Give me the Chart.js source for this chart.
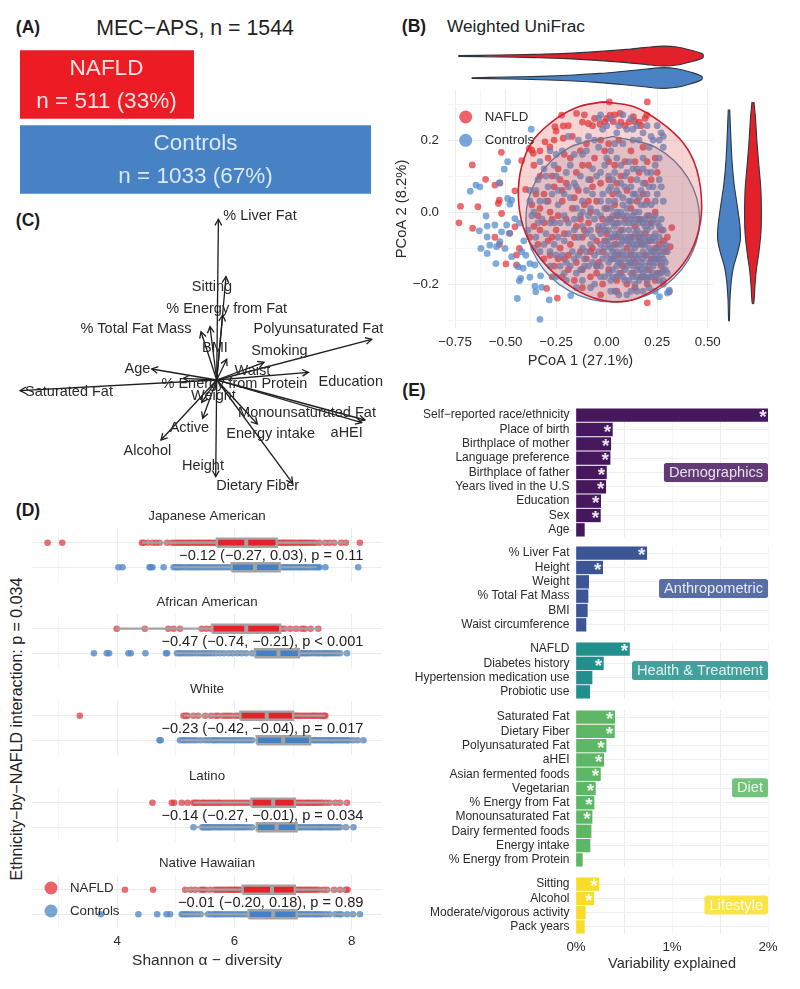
<!DOCTYPE html>
<html><head><meta charset="utf-8">
<script src="https://cdn.jsdelivr.net/npm/chart.js@4"></script>
<style>
html,body{margin:0;padding:0;background:#fff}
#wrap{position:relative;width:800px;height:989px;overflow:hidden;font-family:"Liberation Sans",Arial,sans-serif;color:#222}
canvas{position:absolute}
.t{position:absolute;white-space:nowrap;transform:translate(-50%,-50%)}
</style></head><body><div id="wrap"></div>
<script>
// ---------- Panel A
const cohortLabels=['NAFLD','Controls'];
const cohortCounts=[511,1033];
const cohortShares=['33%','67%'];
// ---------- Panel B: PCoA coordinates
const nafldPCoA=[[-.521,.166],[-.665,.131],[-.599,.091],[-.528,.081],[-.553,.075],[-.723,.016],[-.637,.015],[-.731,-.03],[-.663,-.045],[-.454,.059],[-.401,.063],[-.531,.033],[-.536,.024],[-.52,-.004],[-.553,-.07],[-.479,-.059],[-.454,-.041],[-.531,-.09],[-.432,-.101],[-.446,-.119],[-.498,-.144],[-.446,-.147],[-.297,-.212],[-.244,-.239],[.201,-.252],[.31,-.221],[.201,.306],[.013,.306],[.322,-.043],[.314,-.096],[-.421,.143],[-.371,.172],[-.363,.163],[-.383,.177],[-.256,.237],[-.215,.239],[-.223,.269],[-.149,.274],[-.091,.246],[-.033,.244],[.017,.269],[.033,.251],[.066,.274],[.14,.251],[.198,.269],[.132,.265],[-.25,.225],[-.281,.181],[-.305,.195],[-.215,.205],
[-.12,.25],[-.07,.24],[-.01,.25],[.04,.27],[.09,.24],[.16,.25],[.19,.26],[-.17,.21],[-.1,.19],[-.03,.2],[.06,.2],[.12,.17],[.2,.14],[.24,.15],[-.29,.15],[-.24,.12],[-.18,.15],[-.12,.13],[-.06,.15],[.01,.14],[.07,.1],[.16,.11],[.22,.09],[-.33,.1],[-.31,.05],[-.26,.07],[-.2,.08],[-.14,.06],[-.08,.09],[-.03,.08],[.03,.05],[.1,.06],[.18,.05],[.2,.03],[-.37,.02],[-.33,.01],[-.28,0],[-.22,.03],[-.17,.01],[-.11,.02],[-.05,.03],[0,.01],[.05,-.01],[.12,.01],[.21,-.01],[-.36,-.04],[-.31,-.03],[-.25,-.05],[-.2,-.02],[-.15,-.04],[-.09,-.03],[-.04,-.05],[.02,-.02],[.07,-.05],[.14,-.04],[.19,-.06],[.27,-.05],[.3,-.07],[-.34,-.09],[-.29,-.08],[-.23,-.1],[-.18,-.09],[-.12,-.07],[-.07,-.1],[-.01,-.08],[.04,-.09],[.1,-.1],[.17,-.09],[.24,-.1],[.29,-.11],[-.31,-.13],[-.26,-.15],[-.21,-.13],[-.15,-.14],[-.1,-.13],[-.04,-.14],[.03,-.13],[.08,-.15],[.14,-.14],[.22,-.13],[.27,-.15],[-.22,-.18],[-.16,-.19],[-.08,-.18],[-.02,-.2],[.05,-.19],[.1,-.2],[.18,-.18],[.24,-.19],[.28,-.2],[-.05,-.17],[-.27,-.02],[.01,.19],[.09,.14],[.15,.03],[-.13,.17],
[-.11,.27],[-.06,.26],[.0,.26],[.07,.25],[.11,.25],[.17,.24],[-.19,.24],[-.26,.2],[-.33,.17],[-.36,.13],[-.21,.16],[-.15,.11],[-.09,.13],[-.01,.17],[.04,.13],[.14,.14],[.18,.18],[.25,.11],[-.27,.1],[-.22,.06],[-.16,.04],[-.07,.07],[.01,.09],[.05,.08],[.12,.09],[.19,.08],[-.35,.05],[-.29,.03],[-.24,-.01],[-.13,-.02],[-.08,.0],[-.02,-.02],[.04,.02],[.09,-.02],[.16,-.02],[.24,.0],[-.38,-.07],[-.33,-.05],[-.27,-.07],[-.21,-.06],[-.16,-.07],[-.11,-.05],[-.05,-.08],[.0,-.06],[.05,-.07],[.12,-.07],[.21,-.08],[.26,-.09],[-.28,-.12],[-.24,-.13],[-.19,-.12],[-.13,-.11],[-.08,-.11],[-.02,-.11],[.06,-.12],[.12,-.12],[.19,-.12],[.25,-.13],[-.27,-.18],[-.19,-.16],[-.12,-.16],[-.05,-.15],[.01,-.16],[.07,-.17],[.13,-.17],[.21,-.16],[.26,-.17],[-.12,-.21],[-.03,-.23],[.05,-.22],[.14,-.21],[.2,-.2],[-.09,.03],[-.23,.09],[-.34,-.01],[.16,-.07],[.22,-.03],[.28,-.08]];
const controlsPCoA=[[-.373,.23],[-.49,.14],[-.507,.119],[-.647,.075],[-.627,.07],[-.675,.058],[-.531,.081],[-.49,.038],[-.47,.033],[-.479,.022],[-.597,-.011],[-.591,-.039],[-.63,-.052],[-.591,-.069],[-.553,-.036],[-.495,-.036],[-.454,-.018],[-.432,-.031],[-.52,-.055],[-.482,-.059],[-.528,-.082],[-.578,-.092],[-.622,-.101],[-.591,-.115],[-.545,-.096],[-.503,-.101],[-.47,-.124],[-.548,-.143],[-.437,-.152],[-.413,-.156],[-.38,-.143],[-.355,-.147],[-.327,-.177],[-.38,-.181],[-.426,-.184],[-.432,-.191],[-.355,-.206],[-.322,-.209],[-.351,-.221],[-.442,-.24],[-.284,-.244],[-.178,-.232],[-.33,-.298],[.261,-.235],[.31,-.217],[.3,-.225],[-.41,-.08],[-.39,-.05],[-.42,-.11],[-.4,-.12],
[-.04,.26],[-.03,.27],[.02,.26],[.08,.27],[.12,.26],[.15,.24],[.2,.24],[.25,.24],[.27,.22],[.26,.2],[.28,.21],[.18,.22],[.1,.23],[.05,.22],[-.02,.23],[-.09,.21],[-.14,.2],[-.19,.21],[-.28,.17],[-.22,.17],[-.33,.14],[-.26,.13],[-.16,.16],[-.1,.17],[-.04,.18],[.02,.17],[.08,.19],[.13,.2],[.21,.18],[.24,.13],[.18,.15],[.11,.14],[.05,.15],[-.01,.13],[-.07,.12],[-.13,.1],[-.2,.11],[-.3,.1],[-.35,.06],[-.27,.05],[-.21,.05],[-.16,.08],[-.1,.06],[-.05,.1],[.01,.1],[.04,.11],[.09,.1],[.15,.09],[.2,.11],[.23,.07],[.18,.08],[.12,.07],[.07,.08],[.02,.07],[-.02,.05],[-.07,.05],[-.12,.03],[-.18,.04],[-.24,.02],[-.3,.03],[-.36,.0],[-.32,-.02],[-.26,-.03],[-.21,-.01],[-.16,-.02],[-.13,-.01],[-.08,.01],[-.03,.03],[.01,.03],[.04,.03],[.08,.04],[.11,.03],[.14,.05],[.17,.02],[.2,.05],[.22,.02],[.24,.03],[.23,-.02],[.2,-.01],[.18,-.03],[.16,.0],[.13,-.01],[.1,-.01],[.07,.0],[.03,-.01],[0,-.03],[-.03,-.01],[-.06,-.02],[-.1,-.06],[-.14,-.07],[-.19,-.06],[-.24,-.07],[-.3,-.06],[-.35,-.07],[-.33,-.11],[-.28,-.11],[-.22,-.12],[-.17,-.11],[-.12,-.1],[-.07,-.07],[-.03,-.06],[.01,-.05],[.04,-.04],[.06,-.03],[.09,-.03],[.11,-.05],[.13,-.03],[.15,-.05],[.17,-.06],[.2,-.05],[.22,-.04],[.25,-.03],[.27,-.02],[.24,-.06],[.26,-.07],[.22,-.08],[.19,-.09],[.16,-.08],[.14,-.07],[.12,-.08],[.09,-.07],[.06,-.06],[.03,-.07],[0,-.08],[-.03,-.09],[-.06,-.12],[-.1,-.11],[-.14,-.12],[.02,-.1],[.05,-.11],[.07,-.09],[.1,-.12],[.12,-.11],[.14,-.1],[.16,-.12],[.18,-.11],[.2,-.12],[.22,-.11],[.25,-.1],[.27,-.12],[.29,-.09],[.28,-.13],[.25,-.14],[.23,-.15],[.21,-.14],[.19,-.15],[.17,-.14],[.15,-.16],[.13,-.15],[.11,-.14],[.09,-.16],[.07,-.14],[.05,-.15],[.03,-.16],[.01,-.14],[-.02,-.13],[-.05,-.15],[-.09,-.15],[-.13,-.16],[-.18,-.15],[-.23,-.15],[-.28,-.15],[-.2,-.19],[-.12,-.19],[-.06,-.2],[.02,-.19],[.04,-.22],[.06,-.23],[.1,-.23],[.13,-.18],[.16,-.19],[.19,-.18],[.22,-.18],[.25,-.17],[.27,-.17],[.29,-.16],[.15,-.22],[.18,-.22],[.1,.01],[.05,.06],[.15,.12],[-.02,-.04],[.06,-.01],[.12,-.02],[.08,-.05],[.14,-.12],[.11,-.09],[.04,-.13],[.18,-.07],[.21,-.07],[.23,-.11],[.08,-.11],[.16,-.03],[.19,-.02],
[.0,.24],[.06,.24],[.13,.23],[.22,.21],[.23,.2],[.16,.2],[.04,.19],[-.06,.2],[-.12,.16],[-.18,.13],[-.25,.1],[-.31,.12],[.0,.15],[.07,.13],[.13,.12],[.18,.12],[.22,.11],[.26,.09],[.1,.11],[.03,.09],[-.03,.11],[-.09,.09],[-.15,.07],[-.19,.07],[-.24,.06],[-.29,.07],[-.33,.03],[-.38,.03],[.01,.06],[.06,.05],[.09,.07],[.13,.05],[.17,.06],[.21,.07],[.25,.05],[.16,.04],[.19,.02],[.12,.03],[.08,.02],[.05,.0],[.02,.01],[-.01,.01],[-.05,.0],[-.09,-.01],[-.12,.0],[-.15,.01],[-.19,-.03],[-.23,-.03],[-.28,-.03],[-.34,-.03],[.28,-.05],[.26,-.04],[.24,-.01],[.21,-.03],[.19,-.04],[.17,-.02],[.15,-.02],[.14,.0],[.11,-.03],[.08,-.01],[.05,-.03],[.03,-.03],[.01,-.02],[-.01,-.05],[-.04,-.04],[-.08,-.05],[-.12,-.04],[-.16,-.05],[-.21,-.08],[-.26,-.09],[-.31,-.09],[.3,-.11],[.28,-.1],[.26,-.11],[.24,-.08],[.23,-.07],[.21,-.1],[.2,-.08],[.18,-.09],[.17,-.08],[.15,-.09],[.14,-.06],[.13,-.09],[.11,-.07],[.1,-.08],[.08,-.08],[.07,-.07],[.05,-.09],[.04,-.06],[.02,-.07],[.01,-.09],[-.01,-.1],[-.04,-.11],[-.08,-.09],[-.11,-.13],[-.16,-.13],[-.2,-.14],[-.25,-.12],[.29,-.14],[.27,-.14],[.26,-.13],[.24,-.12],[.23,-.13],[.22,-.14],[.2,-.16],[.18,-.13],[.17,-.16],[.16,-.15],[.15,-.13],[.13,-.13],[.12,-.14],[.1,-.15],[.09,-.13],[.07,-.12],[.06,-.14],[.04,-.12],[.03,-.11],[.02,-.13],[0,-.12],[-.03,-.15],[-.07,-.14],[-.11,-.15],[-.15,-.17],[-.21,-.17],[-.25,-.18],[.3,-.17],[.28,-.16],[.26,-.19],[.24,-.18],[.23,-.17],[.21,-.18],[.2,-.19],[.18,-.17],[.17,-.18],[.15,-.18],[.14,-.2],[.12,-.17],[.11,-.19],[.09,-.19],[.08,-.18],[.06,-.17],[.05,-.18],[.03,-.18],[.01,-.17],[-.01,-.18],[-.03,-.18],[-.08,-.21],[-.15,-.21],[.02,-.22],[.12,-.22],[.21,-.21],[.24,-.22],[.28,-.19],[-.37,-.01],[-.36,-.1],[-.38,.06],[-.34,.09],[-.25,.16],[.28,.18],[.26,.15],[.27,.07],[.28,.03]];
// outlines of the two group ellipses
const nafldEllipse=[[-.017,.306],[.132,.293],[.264,.251],[.38,.191],[.446,.117],[.47,.015],[.446,-.069],[.38,-.143],[.281,-.198],[.149,-.24],[.033,-.249],[-.099,-.231],[-.231,-.184],[-.347,-.115],[-.413,-.041],[-.437,.043],[-.421,.126],[-.363,.2],[-.248,.26],[-.132,.294],[-.017,.306]];
const controlsEllipse=[[.03,.21],[.245,.179],[.402,.095],[.46,-.02],[.402,-.135],[.245,-.219],[.03,-.25],[-.185,-.219],[-.342,-.135],[-.4,-.02],[-.342,.095],[-.185,.179],[.03,.21]];
// marginal violins: axis value and half width
const topNafldAt=[-.734,-.53,-.363,-.198,-.033,.099,.198,.281,.347,.413,.475];
const topNafldW=[.015,.045,.076,.12,.21,.3,.39,.45,.41,.27,.09];
const topControlsAt=[-.668,-.495,-.33,-.165,-.033,.099,.198,.281,.347,.413,.47];
const topControlsW=[.015,.045,.076,.136,.21,.32,.41,.47,.42,.27,.08];
const sideControlsAt=[.285,.219,.144,.08,.015,-.041,-.078,-.115,-.152,-.189,-.244,-.302];
const sideControlsW=[.03,.07,.125,.21,.35,.46,.47,.35,.19,.1,.04,.015];
const sideNafldAt=[.306,.265,.191,.126,.061,-.013,-.059,-.115,-.161,-.207,-.254];
const sideNafldW=[.04,.1,.17,.25,.33,.35,.33,.24,.14,.08,.03];
const pcoaXTicks=[-.75,-.625,-.5,-.375,-.25,-.125,0,.125,.25,.375,.5];
const pcoaXLabels=['\u22120.75','','\u22120.50','','\u22120.25','','0.00','','0.25','','0.50'];
const pcoaYTicks=[-.3,-.2,-.1,0,.1,.2,.3];
const pcoaYLabels=['','\u22120.2','','0.0','','0.2',''];
// ---------- Panel C
const biplotNames=['% Liver Fat','Sitting','% Energy from Fat','% Total Fat Mass','BMI','Waist','Smoking','Polyunsaturated Fat','Education','Age','% Energy from Protein','Saturated Fat','Weight','Active','Alcohol','Height','Dietary Fiber','Energy intake','Monounsaturated Fat','aHEI'];
const biplotX=[.017,.093,.06,-.157,-.067,.1,.473,1.55,.917,-.65,-.333,-1.967,-.15,-.14,-.557,-.01,.76,.407,1.45,1.483];
const biplotY=[1.607,1.033,.65,.483,.533,.207,.177,.407,.077,.11,.017,-.107,-.223,-.383,-.6,-.967,-1.033,-.44,-.427,-.4];
const biplotLabelX=[.433,-.047,.1,-.807,-.017,.357,.627,1.017,1.34,-.793,.177,-1.477,-.033,-.273,-.693,-.137,.41,.54,.903,1.3];
const biplotLabelY=[1.64,.927,.71,.507,.317,.093,.293,.507,-.017,.107,-.043,-.12,-.16,-.483,-.707,-.857,-1.06,-.543,-.333,-.533];
// ---------- Panel D: Shannon diversity
const ethnicities=['Japanese American','African American','White','Latino','Native Hawaiian'];
const effectLabels=['\u22120.12 (\u22120.27, 0.03), p = 0.11','\u22120.47 (\u22120.74, \u22120.21), p < 0.001','\u22120.23 (\u22120.42, \u22120.04), p = 0.017','\u22120.14 (\u22120.27, \u22120.01), p = 0.034','\u22120.01 (\u22120.20, 0.18), p = 0.89'];
const shannonNafld=[
[2.81,3.06,4.42,4.45,4.52,4.6,4.66,4.72,4.85,4.93,4.98,5.02,5.06,5.1,5.14,5.18,5.22,5.25,5.29,5.33,5.37,5.4,5.44,5.47,5.51,5.55,5.58,5.62,5.66,5.7,5.9,6.1,6.35,6.6,6.72,6.76,6.8,6.83,6.86,6.9,6.93,6.97,7,7.04,7.08,7.12,7.15,7.19,7.22,7.26,7.3,7.34,7.38,7.45,7.55,7.62,7.7,7.82,7.9,8.14],
[3.99,4.47,4.87,4.96,5.07,5.44,5.52,5.6,5.66,5.7,5.78,5.85,5.92,6,6.1,6.25,6.4,6.5,6.7,6.8,6.85,6.95,7.05,7.15,7.2,7.3,7.43],
[3.36,5.13,5.17,5.2,5.3,5.38,5.5,5.6,5.68,5.72,5.8,5.85,5.9,5.95,6.02,6.07,6.12,6.3,6.5,6.7,6.85,6.98,7.02,7.05,7.08,7.12,7.16,7.2,7.24,7.28,7.32,7.35,7.38,7.42,7.46,7.5,7.53,7.55],
[4.6,4.93,4.97,5.1,5.2,5.3,5.33,5.36,5.4,5.45,5.48,5.52,5.56,5.6,5.64,5.68,5.72,5.75,5.8,5.85,5.9,5.95,6,6.05,6.1,6.15,6.2,6.25,6.4,6.6,6.9,7.05,7.09,7.12,7.16,7.2,7.24,7.27,7.31,7.35,7.38,7.42,7.46,7.5,7.56,7.62,7.72,7.8,7.92],
[4.13,4.61,5.16,5.25,5.33,5.42,5.46,5.5,5.58,5.66,5.7,5.74,5.78,5.82,5.86,5.9,5.93,5.96,6,6.02,6.06,6.1,6.3,6.6,6.9,7.05,7.09,7.12,7.16,7.2,7.24,7.28,7.32,7.36,7.4,7.45,7.52,7.58,7.7,7.8,7.9,7.93]];
const shannonControls=[
[4.02,4.09,4.55,4.57,4.6,4.79,4.96,5,5.03,5.07,5.1,5.15,5.2,5.24,5.28,5.32,5.36,5.4,5.45,5.5,5.55,5.6,5.65,5.7,5.75,5.8,5.85,5.9,5.95,6.2,6.5,6.8,6.85,6.88,6.92,6.96,7,7.04,7.08,7.12,7.15,7.19,7.22,7.26,7.3,7.34,7.38,7.42,7.45,7.55,8.11],
[3.6,3.82,3.86,4.19,4.23,4.48,4.83,4.85,5.02,5.06,5.1,5.15,5.2,5.25,5.3,5.36,5.42,5.47,5.52,5.57,5.62,5.68,5.75,5.82,5.9,5.97,6.05,6.12,6.2,6.3,6.4,6.7,7,7.12,7.15,7.19,7.22,7.26,7.3,7.35,7.4,7.44,7.48,7.52,7.55,7.58,7.62,7.66,7.7,7.75,7.8,7.92],
[4.72,4.74,5.07,5.12,5.15,5.2,5.25,5.3,5.35,5.42,5.5,5.56,5.62,5.66,5.7,5.75,5.8,5.85,5.9,5.95,6,6.05,6.1,6.15,6.2,6.25,6.3,6.5,6.9,7.3,7.35,7.38,7.42,7.46,7.5,7.54,7.58,7.62,7.65,7.68,7.72,7.76,7.8,7.84,7.88,7.92,7.95,8.02,8.1,8.2],
[5.3,5.45,5.47,5.5,5.53,5.55,5.58,5.6,5.64,5.68,5.72,5.75,5.78,5.82,5.86,5.9,5.94,5.98,6.02,6.05,6.08,6.12,6.16,6.2,6.25,6.3,6.5,6.8,7.05,7.09,7.12,7.16,7.2,7.24,7.28,7.32,7.36,7.4,7.44,7.47,7.5,7.54,7.58,7.62,7.65,7.68,7.72,7.76,7.8,7.9,8.03],
[3.72,4.36,4.68,4.84,4.9,5.1,5.13,5.17,5.2,5.25,5.3,5.36,5.42,5.55,5.6,5.65,5.68,5.72,5.76,5.8,5.85,5.9,5.95,6,6.05,6.1,6.15,6.2,6.5,7,7.07,7.1,7.14,7.18,7.22,7.26,7.3,7.35,7.38,7.42,7.46,7.5,7.56,7.62,7.72,7.78,7.82,7.92,8.02,8.14]];
// whisker low, q1, median, q3, whisker high
const boxNafld=[[4.42,5.7,6.2,6.72,7.9],[3.99,5.62,6.2,6.78,7.46],[5.13,6.1,6.55,7,7.55],[5.3,6.29,6.66,7.03,7.92],[5.16,6.14,6.64,7.03,7.9]];
const boxControls=[[4.96,5.95,6.35,6.77,7.4],[5,6.35,6.75,7.1,7.92],[5.07,6.38,6.83,7.29,8.2],[5.3,6.38,6.72,7.06,8.03],[5.1,6.24,6.66,7.06,8.14]];
const shannonTicks=[3,4,5,6,7,8];
// ---------- Panel E: variability explained (%)
const demoLabels=['Self\u2212reported race/ethnicity','Place of birth','Birthplace of mother','Language preference','Birthplace of father','Years lived in the U.S','Education','Sex','Age'];
const demoValues=[2,.379,.362,.355,.317,.31,.257,.254,.087];
const demoStars=[1,1,1,1,1,1,1,1,0];
const anthroLabels=['% Liver Fat','Height','Weight','% Total Fat Mass','BMI','Waist circumference'];
const anthroValues=[.737,.278,.132,.125,.118,.104];
const anthroStars=[1,1,0,0,0,0];
const healthLabels=['NAFLD','Diabetes history','Hypertension medication use','Probiotic use'];
const healthValues=[.557,.285,.167,.143];
const healthStars=[1,1,0,0];
const dietLabels=['Saturated Fat','Dietary Fiber','Polyunsaturated Fat','aHEI','Asian fermented foods','Vegetarian','% Energy from Fat','Monounsaturated Fat','Dairy fermented foods','Energy intake','% Energy from Protein'];
const dietValues=[.403,.4,.313,.289,.254,.202,.188,.167,.157,.146,.066];
const dietStars=[1,1,1,1,1,1,1,1,0,0,0];
const lifeLabels=['Sitting','Alcohol','Moderate/vigorous activity','Pack years'];
const lifeValues=[.24,.184,.097,.087];
const lifeStars=[1,1,0,0];
const varianceTicks=[0,.5,1,1.5,2];

// ---------- helpers
const F='"Liberation Sans", Arial, sans-serif';
const TXT='#2b2b2b';
const RED='rgba(226,40,48,.72)', BLUE='rgba(74,135,200,.75)';
Chart.defaults.font.family=F;
const wrap=document.getElementById('wrap');
function mk(l,t,w,h){const c=document.createElement('canvas');c.width=w;c.height=h;c.style.cssText=`left:${l}px;top:${t}px;width:${w}px;height:${h}px`;wrap.appendChild(c);return c}
function txt(s,x,y,css){const d=document.createElement('div');d.className='t';d.textContent=s;d.style.cssText=`left:${x}px;top:${y}px;${css}`;wrap.appendChild(d);return d}
function base(extra){return Object.assign({responsive:false,animation:false,events:[],layout:{autoPadding:false,padding:0}},extra)}
const quiet={legend:{display:false},tooltip:{enabled:false},title:{display:false}};
const hidden={display:false};
function setTicks(arr){return s=>{s.ticks=arr.map(v=>({value:v}))}}
function fixed(o){return s=>{s.paddingTop=s.paddingBottom=s.paddingLeft=s.paddingRight=0;Object.assign(s,o)}}
function legendDots(dots){return {id:'dots',afterDatasetsDraw(ch){const c=ch.ctx;c.save();dots.forEach(d=>{c.fillStyle=d.color;c.beginPath();c.arc(d.x,d.y,6.5,0,7);c.fill();c.fillStyle=TXT;c.font='13.3px '+F;c.textBaseline='middle';c.textAlign='left';c.fillText(d.text,d.x+19,d.y+.5)});c.restore()}}}

// ---------- panel letters and titles
[['(A)',28,27],['(B)',414,26],['(C)',28,220],['(D)',28,510],['(E)',414,390]].forEach(a=>txt(a[0],a[1],a[2],'font-weight:bold;font-size:17.5px;color:#1c1c1c'));
txt('MEC\u2212APS, n = 1544',195,28,'font-size:21.3px');
txt('Weighted UniFrac',516,26,'font-size:17.3px');

// ---------- A
new Chart(mk(20,47,351,150),{type:'bar',data:{labels:cohortLabels,datasets:[{data:cohortCounts,backgroundColor:['#ed1c24','#4682c4'],barThickness:68,borderWidth:0}]},
options:base({indexAxis:'y',plugins:quiet,scales:{x:{display:false,min:0,max:1033},y:{display:false}}}),
plugins:[{id:'lab',afterDatasetsDraw(ch){const c=ch.ctx;c.save();c.textAlign='center';c.textBaseline='middle';c.font='22.5px '+F;ch.getDatasetMeta(0).data.forEach((b,i)=>{const x=i?175.5:86.5;c.fillStyle=i?'#dbe8f6':'#fbe3e3';c.fillText(cohortLabels[i],x,b.y-16);c.fillText('n = '+cohortCounts[i]+' ('+cohortShares[i]+')',x,b.y+17)});c.restore()}}]});

// ---------- B main
const gridPC=(arr,k)=>({color:ctx=>arr.indexOf(ctx.tick.value)%2===k?'#ededed':'#f6f6f6',drawTicks:false,lineWidth:1});
const toXY=p=>({x:p[0],y:p[1]});
new Chart(mk(393,90,332,280),{type:'scatter',data:{datasets:[
{data:nafldEllipse.map(toXY),showLine:true,tension:.35,pointRadius:0,borderColor:'#c8202f',borderWidth:1.6,backgroundColor:'rgba(214,60,60,.22)',fill:'shape',order:0},
{data:controlsEllipse.map(toXY),showLine:true,tension:.35,pointRadius:0,borderColor:'#5f7fa6',borderWidth:1.3,backgroundColor:'rgba(120,120,150,.2)',fill:'shape',order:1},
{data:controlsPCoA.map(toXY),pointRadius:3.4,backgroundColor:'rgba(84,142,205,.75)',borderWidth:0,order:2},
{data:nafldPCoA.map(toXY),pointRadius:3.4,backgroundColor:'rgba(228,50,56,.72)',borderWidth:0,order:3}]},
options:base({layout:{autoPadding:false,padding:{right:12}},plugins:quiet,scales:{
x:{type:'linear',min:-.785,max:.526,afterBuildTicks:setTicks(pcoaXTicks),afterFit:fixed({height:42}),border:hidden,grid:gridPC(pcoaXTicks,0),
 ticks:{autoSkip:false,maxRotation:0,padding:6,color:TXT,font:{size:13.3},callback:(v,i)=>pcoaXLabels[i]},title:{display:true,text:'PCoA 1 (27.1%)',color:TXT,font:{size:14.6},padding:0}},
y:{type:'linear',min:-.322,max:.339,afterBuildTicks:setTicks(pcoaYTicks),afterFit:fixed({width:55}),border:hidden,grid:gridPC(pcoaYTicks,1),
 ticks:{autoSkip:false,padding:9,color:TXT,font:{size:13.3},callback:(v,i)=>pcoaYLabels[i]},title:{display:true,text:'PCoA 2 (8.2%)',color:TXT,font:{size:14.8},padding:0}}}}),
plugins:[legendDots([{x:72.7,y:27,color:RED,text:'NAFLD'},{x:72.7,y:50.3,color:BLUE,text:'Controls'}])]});

// ---------- B violins
function outlineH(at,w,c){return at.map((v,i)=>({x:v,y:c+w[i]})).concat(at.map((v,i)=>({x:v,y:c-w[i]})).reverse())}
function outlineV(at,w,c){return at.map((v,i)=>({x:c+w[i],y:v})).concat(at.map((v,i)=>({x:c-w[i],y:v})).reverse())}
const vio=(d,col)=>({data:d,showLine:true,tension:.3,pointRadius:0,borderColor:'#2f3640',borderWidth:1.1,backgroundColor:col,fill:'shape'});
new Chart(mk(448,40,265,50),{type:'scatter',data:{datasets:[vio(outlineH(topNafldAt,topNafldW,1),'#e3212b'),vio(outlineH(topControlsAt,topControlsW,0),'#4a82c3')]},
options:base({plugins:quiet,scales:{x:{display:false,min:-.785,max:.526},y:{display:false,min:-.545,max:1.727}}})});
new Chart(mk(715,90,60,238),{type:'scatter',data:{datasets:[vio(outlineV(sideControlsAt,sideControlsW,0),'#4a82c3'),vio(outlineV(sideNafldAt,sideNafldW,1),'#e3212b')]},
options:base({plugins:quiet,scales:{x:{display:false,min:-.583,max:1.917},y:{display:false,min:-.322,max:.339}}})});

// ---------- C
new Chart(mk(0,200,400,300),{type:'scatter',data:{datasets:biplotNames.map((n,i)=>({label:n,data:[{x:0,y:0},{x:biplotX[i],y:biplotY[i]}],showLine:true,pointRadius:0,borderColor:'#1e1e1e',borderWidth:1.3}))},
options:base({plugins:quiet,scales:{x:{display:false,min:-2.167,max:1.833},y:{display:false,min:-1.2,max:1.8}}}),
plugins:[{id:'arrows',afterDatasetsDraw(ch){const c=ch.ctx,X=ch.scales.x,Y=ch.scales.y;c.save();c.strokeStyle='#1e1e1e';c.lineWidth=1.3;
 biplotNames.forEach((n,i)=>{const x0=X.getPixelForValue(0),y0=Y.getPixelForValue(0),x=X.getPixelForValue(biplotX[i]),y=Y.getPixelForValue(biplotY[i]),a=Math.atan2(y-y0,x-x0);
  c.beginPath();c.moveTo(x-7*Math.cos(a-.5),y-7*Math.sin(a-.5));c.lineTo(x,y);c.lineTo(x-7*Math.cos(a+.5),y-7*Math.sin(a+.5));c.stroke()});
 c.fillStyle='#2a2a2a';c.font='14.5px '+F;c.textAlign='center';c.textBaseline='middle';
 biplotNames.forEach((n,i)=>c.fillText(n,X.getPixelForValue(biplotLabelX[i]),Y.getPixelForValue(biplotLabelY[i])));c.restore()}}]});

// ---------- D
txt('Ethnicity\u2212by\u2212NAFLD interaction: p = 0.034',17,729,'font-size:16px;transform:translate(-50%,-50%) rotate(-90deg)');
const facetTops=[508,594,681,768,855];
function boxSets(b,y,col){const h=.165,grey='#a3a3a3';return [
 {data:[{x:b[1],y:y-h},{x:b[3],y:y-h},{x:b[3],y:y+h},{x:b[1],y:y+h},{x:b[1],y:y-h}],showLine:true,pointRadius:0,borderColor:grey,borderWidth:2.4,backgroundColor:col,fill:'shape',order:0},
 {data:[{x:b[2],y:y-h},{x:b[2],y:y+h}],showLine:true,pointRadius:0,borderColor:grey,borderWidth:4,order:-1},
 {data:[{x:b[0],y},{x:b[1],y}],showLine:true,pointRadius:0,borderColor:grey,borderWidth:2.2,order:1},
 {data:[{x:b[3],y},{x:b[4],y}],showLine:true,pointRadius:0,borderColor:grey,borderWidth:2.2,order:1}]}
ethnicities.forEach((name,i)=>{const last=i===ethnicities.length-1;
 new Chart(mk(32,facetTops[i],350,last?115:74),{type:'scatter',data:{datasets:[
  ...boxSets(boxNafld[i],1,'#e5222a'),...boxSets(boxControls[i],0,'#4480c4'),
  {data:shannonNafld[i].map(x=>({x,y:1})),pointRadius:3.3,backgroundColor:'rgba(224,62,68,.75)',borderWidth:0,order:2},
  {data:shannonControls[i].map(x=>({x,y:0})),pointRadius:3.3,backgroundColor:'rgba(84,138,200,.8)',borderWidth:0,order:2}]},
 options:base({plugins:{legend:{display:false},tooltip:{enabled:false},title:{display:true,text:name,color:TXT,font:{size:13.3,weight:'normal'},padding:{top:0,bottom:4}}},scales:{
  x:{type:'linear',min:2.544,max:8.517,afterBuildTicks:setTicks(shannonTicks),afterFit:fixed({height:last?41:0}),border:hidden,grid:{color:ctx=>ctx.tick.value%2?'#f4f4f4':'#ececec',drawTicks:false},
   ticks:{display:last,autoSkip:false,maxRotation:0,padding:4,color:TXT,font:{size:13.3},callback:v=>v%2?'':String(v)},title:{display:last,text:'Shannon \u03b1 \u2212 diversity',color:TXT,font:{size:15.5},padding:0}},
  y:{type:'linear',display:true,min:-.6,max:1.6,afterBuildTicks:setTicks([0,1]),afterFit:fixed({width:0}),border:hidden,grid:{color:'#ececec',drawTicks:false},ticks:{display:false}}}}),
 plugins:[{id:'effect',afterDatasetsDraw(ch){const c=ch.ctx;c.save();c.fillStyle='#222';c.font='14.6px '+F;c.textAlign='right';c.textBaseline='middle';c.fillText(effectLabels[i],ch.scales.x.getPixelForValue(8.2),ch.scales.y.getPixelForValue(.47));c.restore()}},
  ...(last?[legendDots([{x:19,y:33,color:RED,text:'NAFLD'},{x:19,y:56,color:BLUE,text:'Controls'}])]:[])]});
});

// ---------- E
const groups=[
 {labels:demoLabels,values:demoValues,stars:demoStars,color:'#46175d',badge:'Demographics',bg:'rgba(70,23,93,.85)',at:4,top:408},
 {labels:anthroLabels,values:anthroValues,stars:anthroStars,color:'#3b5595',badge:'Anthropometric',bg:'rgba(59,85,149,.85)',at:2.46,top:546},
 {labels:healthLabels,values:healthValues,stars:healthStars,color:'#21908c',badge:'Health & Treatment',bg:'rgba(33,144,140,.85)',at:1.5,top:642},
 {labels:dietLabels,values:dietValues,stars:dietStars,color:'#5cb864',badge:'Diet',bg:'rgba(92,184,100,.85)',at:4.95,top:710},
 {labels:lifeLabels,values:lifeValues,stars:lifeStars,color:'#f8dc26',badge:'Lifestyle',bg:'rgba(248,224,40,.85)',at:1.47,top:877}];
groups.forEach((g,gi)=>{const last=gi===groups.length-1,hPlot=Math.round(g.labels.length*14.29);
 new Chart(mk(400,g.top,400,hPlot+(last?39:0)),{type:'bar',data:{labels:g.labels,datasets:[{data:g.values,backgroundColor:g.color,barThickness:12.7,borderWidth:0}]},
 options:base({indexAxis:'y',layout:{autoPadding:false,padding:{right:32}},plugins:quiet,scales:{
  x:{type:'linear',min:0,max:2,afterBuildTicks:setTicks(varianceTicks),afterFit:fixed({height:last?39:0}),border:hidden,grid:{drawTicks:false,color:ctx=>(ctx.tick.value===.5||ctx.tick.value===1.5)?'#ececec':'#f6f6f6'},
   ticks:{display:last,autoSkip:false,maxRotation:0,padding:5,color:TXT,font:{size:13.3},callback:v=>Number.isInteger(v)?v+'%':''},title:{display:last,text:'Variability explained',color:TXT,font:{size:14.5},padding:0}},
  y:{type:'category',offset:true,afterFit:fixed({width:176}),border:hidden,grid:{offset:false,color:'#efefef',drawTicks:false},ticks:{autoSkip:false,padding:6.5,color:TXT,font:{size:12}}}}}),
 plugins:[{id:'marks',afterDatasetsDraw(ch){const c=ch.ctx;c.save();c.textAlign='center';c.textBaseline='middle';
   c.font='bold 19px '+F;c.fillStyle='rgba(255,255,255,.9)';ch.getDatasetMeta(0).data.forEach((b,i)=>{if(g.stars[i])c.fillText('*',b.x-5,b.y+3)});
   c.font='14.6px '+F;const w=c.measureText(g.badge).width+10,r=ch.scales.x.getPixelForValue(2),yc=ch.scales.y.getPixelForValue(g.at);
   c.fillStyle=g.bg;c.beginPath();c.roundRect(r-w,yc-9.5,w,19,2.5);c.fill();c.fillStyle='rgba(255,255,255,.86)';c.fillText(g.badge,r-w/2,yc+.5);c.restore()}}]});
});
</script></body></html>
